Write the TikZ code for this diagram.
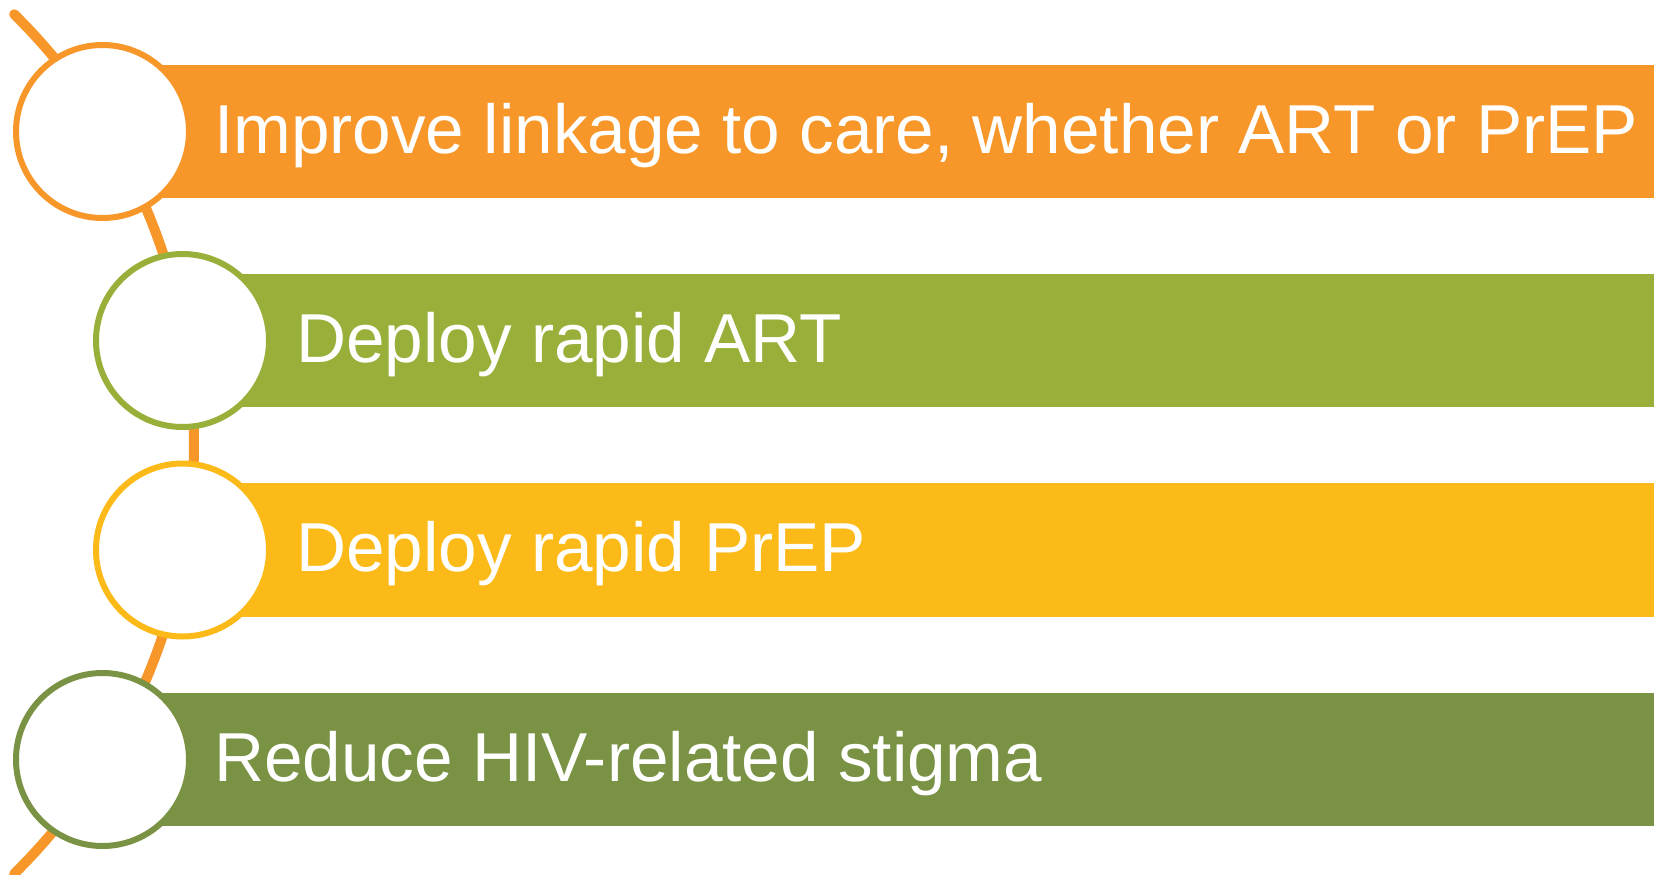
\documentclass[tikz,border=0pt]{standalone}
\usepackage{fontspec}
\setmainfont{Liberation Sans}
\definecolor{cOrange}{RGB}{247,150,41}
\definecolor{cGreen}{RGB}{152,176,58}
\definecolor{cYellow}{RGB}{252,186,24}
\definecolor{cDark}{RGB}{122,146,67}
\begin{document}
\begin{tikzpicture}[x=1pt,y=-1pt,
  ring/.style={circle,draw=#1,line width=6pt,fill=white,minimum size=173pt,inner sep=0pt},
  label/.style={anchor=base west,text=white,font=\fontsize{69.3}{80}\selectfont,inner sep=0pt},
  spine/.style={draw=cOrange,line width=10pt,line cap=round}]
\useasboundingbox (0,0) rectangle (1654,875);
% spine arc
\coordinate (ctr) at (-409.6,444);
\draw[spine] (ctr) ++(45.4:603.6) arc[start angle=45.4,end angle=-45.4,radius=603.6];
% bars
\fill[cOrange] (100,65) rectangle (1654,198);
\fill[cGreen] (180.5,274) rectangle (1654,407);
\fill[cYellow] (180.5,483) rectangle (1654,617);
\fill[cDark] (100,693) rectangle (1654,826);
% circles
\node[ring=cOrange] (c1) at (102.5,131.5) {};
\node[ring=cGreen] (c2) at (182.5,340.5) {};
\node[ring=cYellow] (c3) at (182.5,550) {};
\node[ring=cDark] (c4) at (102.5,759.5) {};
% texts
\node[label] (t1) at (214,153) {Improve linkage to care, whether ART or PrEP};
\node[label] (t2) at (296,362) {Deploy rapid ART};
\node[label] (t3) at (296,571.5) {Deploy rapid PrEP};
\node[label] (t4) at (214,781) {Reduce HIV-related stigma};
\end{tikzpicture}
\end{document}
